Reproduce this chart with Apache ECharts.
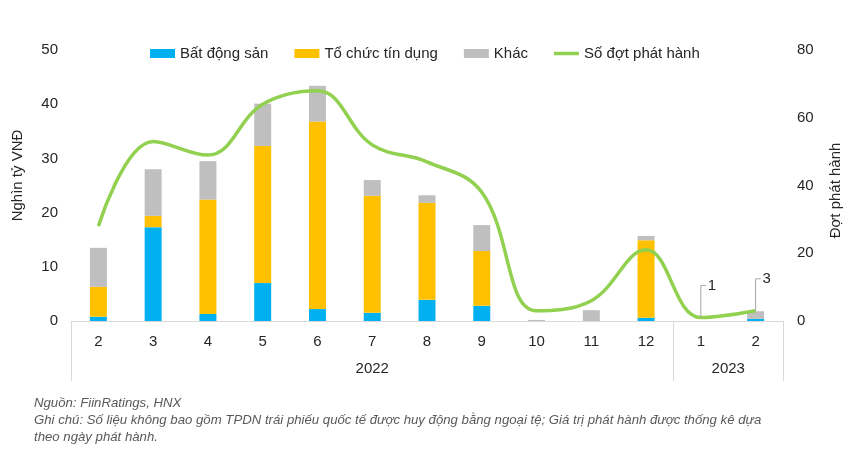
<!DOCTYPE html>
<html>
<head>
<meta charset="utf-8">
<script src="https://cdn.jsdelivr.net/npm/echarts@6/dist/echarts.min.js"></script>
<style>
  html, body { margin: 0; padding: 0; background: #fff; }
  #chart { width: 851px; height: 454px; }
</style>
</head>
<body>
<div id="chart"></div>
<script>
'use strict'
// categories
var months = ['2', '3', '4', '5', '6', '7', '8', '9', '10', '11', '12', '1', '2'];
var years = ['2022', '2023'];
var yearSpans = [11, 2];

// values (nghìn tỷ VNĐ)
var batDongSan = [0.8, 17.3, 1.3, 7.0, 2.2, 1.5, 3.9, 2.8, 0, 0, 0.6, 0, 0.4];
var toChucTinDung = [5.5, 2.1, 21.1, 25.3, 34.6, 21.6, 17.9, 10.1, 0, 0, 14.3, 0, 0];
var khac = [7.2, 8.6, 7.1, 7.8, 6.6, 2.9, 1.4, 4.8, 0.2, 2.0, 0.8, 0, 1.4];
// số đợt phát hành
var soDot = [28, 53, 49, 64, 68, 52, 47, 38, 3, 6, 21, 1, 3];
var labelledIdx = [11, 12];

var font = 'Liberation Sans, Arial, sans-serif';
var textColor = '#262626';
var axisGray = '#d9d9d9';

var yearBounds = [0];
yearSpans.forEach(function (s) { yearBounds.push(yearBounds[yearBounds.length - 1] + s); });
var yearCenters = yearSpans.map(function (s, i) { return yearBounds[i] + s / 2; });

var chart = echarts.init(document.getElementById('chart'));

function barSeries(name, data, color) {
    return {
        name: name,
        type: 'bar',
        stack: 'total',
        barWidth: '31%',
        data: data,
        itemStyle: { color: color }
    };
}

// callout: leader line going up from the point, then the value
function renderCallout(params, api) {
    var pt = api.coord([api.value(0), api.value(1)]);
    var rise = 32;
    return {
        type: 'group',
        children: [
            {
                type: 'polyline',
                shape: { points: [[pt[0], pt[1]], [pt[0], pt[1] - rise], [pt[0] + 5, pt[1] - rise]] },
                style: { stroke: '#a6a6a6', lineWidth: 1, fill: null }
            },
            {
                type: 'text',
                x: pt[0] + 7,
                y: pt[1] - rise,
                style: {
                    text: String(api.value(1)),
                    fontFamily: font,
                    fontSize: 15,
                    fill: textColor,
                    verticalAlign: 'middle',
                    align: 'left'
                }
            }
        ]
    };
}

var option = {
    animation: false,
    textStyle: { fontFamily: font },
    title: {
        left: 29,
        top: 390,
        text: 'Nguồn: FiinRatings, HNX\nGhi chú: Số liệu không bao gồm TPDN trái phiếu quốc tế được huy động bằng ngoại tệ; Giá trị phát hành được thống kê dựa\ntheo ngày phát hành.',
        textStyle: {
            fontFamily: font,
            fontSize: 13.2,
            fontStyle: 'italic',
            fontWeight: 'normal',
            color: '#595959',
            lineHeight: 17
        }
    },
    legend: {
        top: 41,
        left: 145,
        itemWidth: 25,
        itemHeight: 9,
        itemGap: 26,
        textStyle: { fontSize: 15, color: textColor, fontFamily: font },
        data: [
            { name: 'Bất động sản', icon: 'rect' },
            { name: 'Tổ chức tín dụng', icon: 'rect' },
            { name: 'Khác', icon: 'rect' },
            { name: 'Số đợt phát hành', icon: 'path://M0,0 L25,0 L25,3.5 L0,3.5 Z' }
        ]
    },
    grid: {
        left: 71,
        right: 68,
        top: 50,
        bottom: 133
    },
    xAxis: [
        {
            type: 'category',
            data: months,
            axisLine: { lineStyle: { color: axisGray } },
            axisTick: { show: false },
            axisLabel: { fontSize: 15, color: textColor, margin: 13 }
        },
        {
            type: 'value',
            min: 0,
            max: yearBounds[yearBounds.length - 1],
            position: 'bottom',
            axisLine: { show: false },
            splitLine: { show: false },
            axisTick: {
                show: true,
                customValues: yearBounds,
                length: 60,
                lineStyle: { color: axisGray }
            },
            axisLabel: {
                customValues: yearCenters,
                formatter: function (v) {
                    for (var i = 0; i < yearCenters.length; i++) {
                        if (Math.abs(v - yearCenters[i]) < 0.01) return years[i];
                    }
                    return '';
                },
                fontSize: 15,
                color: textColor,
                margin: 40
            }
        }
    ],
    yAxis: [
        {
            type: 'value',
            min: 0,
            max: 50,
            interval: 10,
            name: 'Nghìn tỷ VNĐ',
            nameLocation: 'middle',
            nameRotate: 90,
            nameGap: 46,
            nameTextStyle: { fontSize: 15, color: textColor, padding: [0, 0, 0, 20] },
            axisLine: { show: false },
            axisTick: { show: false },
            splitLine: { show: false },
            axisLabel: { fontSize: 15, color: textColor, margin: 13 }
        },
        {
            type: 'value',
            min: 0,
            max: 80,
            interval: 20,
            name: 'Đợt phát hành',
            nameLocation: 'middle',
            nameRotate: 90,
            nameGap: 45,
            nameTextStyle: { fontSize: 15, color: textColor, padding: [0, 10, 0, 0] },
            axisLine: { show: false },
            axisTick: { show: false },
            splitLine: { show: false },
            axisLabel: { fontSize: 15, color: textColor, margin: 14 }
        }
    ],
    series: [
        barSeries('Bất động sản', batDongSan, '#00B0F0'),
        barSeries('Tổ chức tín dụng', toChucTinDung, '#FFC000'),
        barSeries('Khác', khac, '#BFBFBF'),
        {
            name: 'Số đợt phát hành',
            type: 'line',
            yAxisIndex: 1,
            smooth: 0.4,
            symbol: 'none',
            itemStyle: { color: '#92D050' },
            lineStyle: { width: 3.5, color: '#92D050' },
            data: soDot
        },
        {
            name: 'nhãn',
            type: 'custom',
            yAxisIndex: 1,
            silent: true,
            z: 5,
            renderItem: renderCallout,
            data: labelledIdx.map(function (i) { return [i, soDot[i]]; })
        }
    ]
};

chart.setOption(option);
</script>
</body>
</html>
